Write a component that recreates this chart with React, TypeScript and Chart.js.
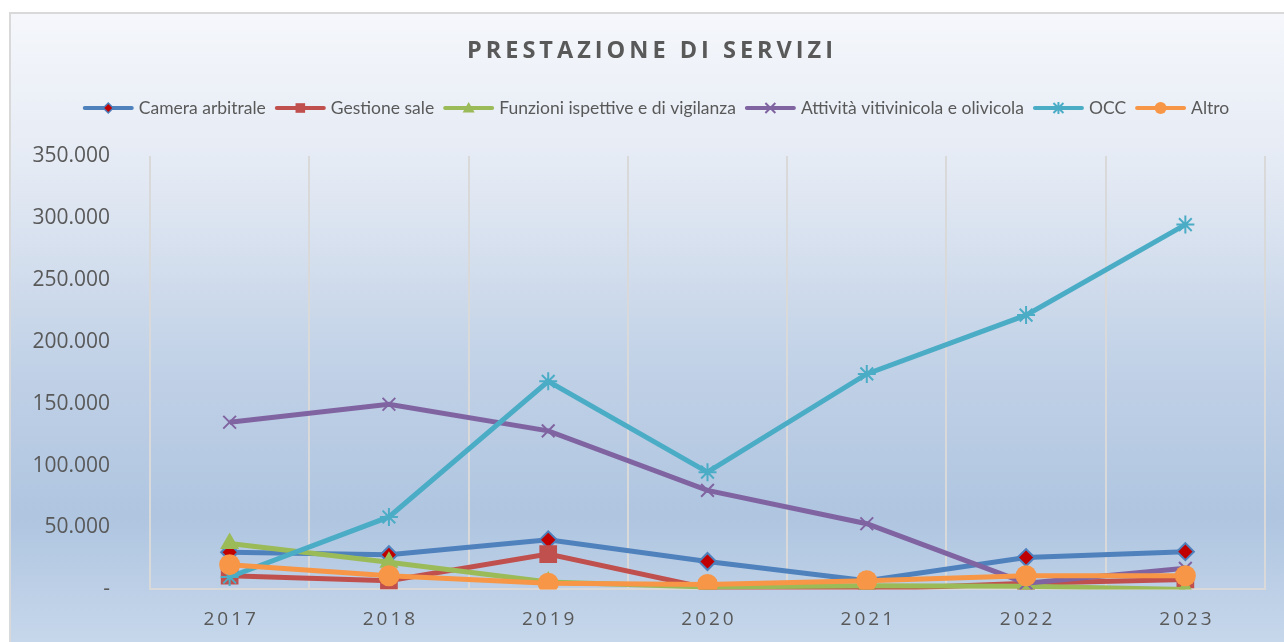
import React, { useEffect, useRef } from "react";
import { Chart, registerables } from "chart.js";

Chart.register(...registerables);

const TITLE = "PRESTAZIONE DI SERVIZI";
const years = ["2017", "2018", "2019", "2020", "2021", "2022", "2023"];
const seriesNames = [
  "Camera arbitrale",
  "Gestione sale",
  "Funzioni ispettive e di vigilanza",
  "Attività vitivinicola e olivicola",
  "OCC",
  "Altro",
];
const cameraArbitrale = [30000, 28000, 40000, 22500, 7000, 25700, 30500];
const gestioneSale = [11000, 7000, 28500, 1000, 0, 5000, 8000];
const funzioniIspettive = [37000, 22000, 6000, 2000, 3000, 2500, 0];
const attivitaVitivinicola = [135000, 149500, 128000, 80000, 53000, 5000, 17000];
const occ = [10000, 58500, 168000, 94700, 174000, 221500, 294600];
const altro = [20000, 11000, 5000, 4000, 7000, 11000, 11000];
const yTickValues = [0, 50000, 100000, 150000, 200000, 250000, 300000, 350000];

const BLUE = "#4F81BD";
const RED = "#C0504D";
const GREEN = "#9BBB59";
const PURPLE = "#8064A2";
const CYAN = "#4BACC6";
const ORANGE = "#F79646";
const DARKRED = "#C00000";
const TEXT = "#595959";

const seriesData = [cameraArbitrale, gestioneSale, funzioniIspettive, attivitaVitivinicola, occ, altro];
const seriesColors = [BLUE, RED, GREEN, PURPLE, CYAN, ORANGE];
const seriesStyles = ["rectRot", "rect", "triangle", "crossRot", "star", "circle"];
const markerFill = [DARKRED, RED, GREEN, PURPLE, CYAN, ORANGE];
const markerRadius = [8.5, 12.5, 11, 9, 9, 10.5];
const legendMarkerRadius = [5, 6, 6, 5, 5, 6];

function fmt(v: number): string {
  if (v === 0) return "-";
  return String(v).replace(/\B(?=(\d{3})+(?!\d))/g, ".");
}

function drawMarker(
  ctx: CanvasRenderingContext2D,
  style: string,
  x: number,
  y: number,
  r: number,
  fill: string,
  stroke: string,
  lw: number
) {
  ctx.save();
  ctx.fillStyle = fill;
  ctx.strokeStyle = stroke;
  ctx.lineWidth = lw;
  ctx.beginPath();
  switch (style) {
    case "rectRot":
      ctx.moveTo(x, y - r);
      ctx.lineTo(x + r, y);
      ctx.lineTo(x, y + r);
      ctx.lineTo(x - r, y);
      ctx.closePath();
      ctx.fill();
      ctx.stroke();
      break;
    case "rect":
      ctx.rect(x - r * 0.8, y - r * 0.8, r * 1.6, r * 1.6);
      ctx.fill();
      break;
    case "triangle":
      ctx.moveTo(x, y - r);
      ctx.lineTo(x + r, y + r * 0.75);
      ctx.lineTo(x - r, y + r * 0.75);
      ctx.closePath();
      ctx.fill();
      break;
    case "crossRot":
      ctx.moveTo(x - r, y - r);
      ctx.lineTo(x + r, y + r);
      ctx.moveTo(x + r, y - r);
      ctx.lineTo(x - r, y + r);
      ctx.stroke();
      break;
    case "star":
      ctx.moveTo(x - r, y - r);
      ctx.lineTo(x + r, y + r);
      ctx.moveTo(x + r, y - r);
      ctx.lineTo(x - r, y + r);
      ctx.moveTo(x, y - r * 1.2);
      ctx.lineTo(x, y + r * 1.2);
      ctx.stroke();
      break;
    default:
      ctx.arc(x, y, r, 0, Math.PI * 2);
      ctx.fill();
  }
  ctx.restore();
}

const decorPlugin = {
  id: "decor",
  beforeDraw(chart: any) {
    const ctx: CanvasRenderingContext2D = chart.ctx;
    ctx.save();
    const g = ctx.createLinearGradient(0, 13, 0, 642);
    g.addColorStop(0, "#f5f7fb");
    g.addColorStop(0.25, "#e4eaf4");
    g.addColorStop(0.55, "#c2d2e7");
    g.addColorStop(0.8, "#afc5e0");
    g.addColorStop(1, "#c6d7eb");
    ctx.fillStyle = g;
    ctx.fillRect(10, 13, 1290, 640);
    ctx.strokeStyle = "#d9d9d9";
    ctx.lineWidth = 2;
    ctx.strokeRect(10, 13, 1290, 640);

    // title
    ctx.font = 'bold 23.5px "Open Sans"';
    (ctx as any).letterSpacing = "4px";
    ctx.fillStyle = TEXT;
    ctx.textAlign = "center";
    ctx.textBaseline = "middle";
    ctx.fillText(TITLE, 652, 51);
    (ctx as any).letterSpacing = "0px";

    // legend
    ctx.font = '17.5px Lato';
    const lineLen = 51;
    const gapText = 5;
    const gapItem = 9;
    const widths = seriesNames.map((n) => ctx.measureText(n).width);
    const total =
      widths.reduce((a, w) => a + lineLen + gapText + w, 0) + gapItem * (seriesNames.length - 1);
    let x = 656 - total / 2;
    const ly = 108;
    seriesNames.forEach((name, i) => {
      ctx.strokeStyle = seriesColors[i];
      ctx.lineWidth = 4;
      ctx.lineCap = "round";
      ctx.beginPath();
      ctx.moveTo(x + 2, ly);
      ctx.lineTo(x + lineLen - 2, ly);
      ctx.stroke();
      ctx.lineCap = "butt";
      drawMarker(
        ctx,
        seriesStyles[i],
        x + lineLen / 2,
        ly,
        legendMarkerRadius[i],
        markerFill[i],
        seriesColors[i],
        i === 0 ? 1.5 : 2
      );
      x += lineLen + gapText;
      ctx.fillStyle = TEXT;
      ctx.textAlign = "left";
      ctx.textBaseline = "middle";
      ctx.fillText(name, x, ly);
      x += widths[i] + gapItem;
    });
    ctx.restore();
  },
  afterDraw(chart: any) {
    const ctx: CanvasRenderingContext2D = chart.ctx;
    const xs = chart.scales.x;
    ctx.save();
    ctx.font = '19px "Open Sans"';
    (ctx as any).letterSpacing = "3px";
    ctx.fillStyle = TEXT;
    ctx.textAlign = "center";
    ctx.textBaseline = "middle";
    years.forEach((yr, i) => {
      ctx.fillText(yr, xs.getPixelForValue(i) + 1.5, 620);
    });
    (ctx as any).letterSpacing = "0px";
    ctx.restore();
  },
};

export default function App() {
  const ref = useRef<HTMLCanvasElement | null>(null);
  useEffect(() => {
    document.body.style.margin = "0";
    document.body.style.overflow = "hidden";
    const canvas = ref.current;
    if (!canvas) return;
    const datasets = seriesNames.map((name, i) => ({
      label: name,
      data: seriesData[i],
      borderColor: seriesColors[i],
      backgroundColor: markerFill[i],
      borderWidth: 5,
      pointStyle: seriesStyles[i] as any,
      pointRadius: markerRadius[i],
      pointHoverRadius: markerRadius[i],
      pointBackgroundColor: markerFill[i],
      pointBorderColor: seriesColors[i],
      pointBorderWidth: i === 0 ? 2 : i === 3 || i === 4 ? 2 : 0,
      tension: 0,
      fill: false,
      order: seriesNames.length - 1 - i,
    }));
    const chart = new Chart(canvas, {
      type: "line",
      data: { labels: years, datasets },
      options: {
        responsive: false,
        animation: false,
        layout: { padding: { top: 156, left: 0, right: 19, bottom: 50 } },
        plugins: {
          legend: { display: false },
          title: { display: false },
          tooltip: { enabled: false },
        },
        scales: {
          x: {
            type: "category",
            offset: true,
            grid: {
              display: true,
              offset: true,
              color: "#d9d9d9",
              lineWidth: 2,
              drawTicks: false,
            },
            border: { display: true, color: "#d9d9d9", width: 2 },
            ticks: { display: false },
            afterFit(scale: any) {
              scale.height = 0;
            },
          },
          y: {
            min: 0,
            max: 350000,
            afterBuildTicks(scale: any) {
              scale.ticks = yTickValues.map((v) => ({ value: v }));
            },
            grid: { display: false, drawTicks: false },
            border: { display: false },
            ticks: {
              color: TEXT,
              font: { family: "Open Sans", size: 21 },
              padding: 40,
              callback: (v: any) => fmt(Number(v)),
            },
            afterFit(scale: any) {
              scale.width = 150;
            },
          },
        },
      },
      plugins: [decorPlugin],
    });
    return () => chart.destroy();
  }, []);
  return <canvas ref={ref} width={1284} height={642} style={{ display: "block" }} />;
}
